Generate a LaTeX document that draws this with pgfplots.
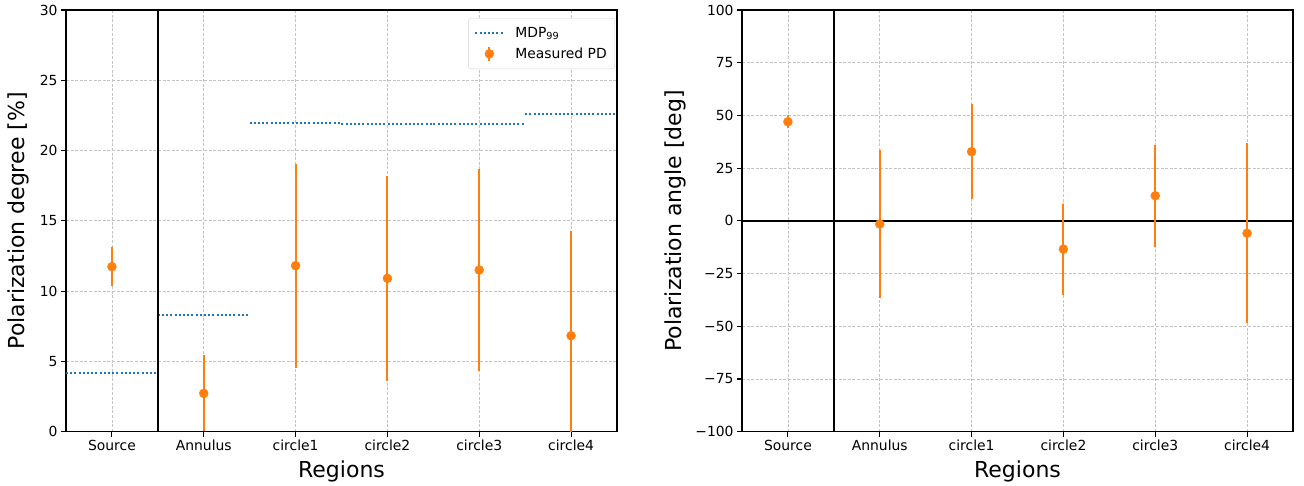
\documentclass[border=0pt]{standalone}
\usepackage{fontspec}
\setmainfont{DejaVu Sans}
\usepackage{pgfplots}
\usepackage{pgfplotstable}
\pgfplotsset{compat=1.18}
\definecolor{mplorange}{HTML}{FF7F0E}
\definecolor{mplblue}{HTML}{1F77B4}
\definecolor{gridgray}{HTML}{C4C4C4}
\newcommand\tickfont{\fontsize{13.9}{16}\selectfont}
\newcommand\labelfont{\fontsize{22}{26}\selectfont}

\pgfplotstableread{
x y e
0 11.74 1.40
1 2.73 2.70
2 11.81 7.25
3 10.91 7.30
4 11.50 7.20
5 6.83 7.47
}\pdtable

\pgfplotstableread{
x y e
0 47.0 3.0
1 -1.5 35.1
2 32.8 22.5
3 -13.4 21.6
4 11.9 24.2
5 -5.9 42.6
}\patable

\tikzset{mdpline/.style={mplblue, line width=2pt, dash pattern=on 2pt off 2.2pt}}

\pgfplotsset{
  mystyle/.style={
    scale only axis, width=551pt, height=421.7pt,
    xmin=-0.5, xmax=5.5,
    xtick={0,1,2,3,4,5},
    xticklabels={Source,Annulus,circle1,circle2,circle3,circle4},
    tick align=outside, major tick length=4.9pt,
    xtick pos=bottom, ytick pos=left,
    tick style={black, line width=1.1pt},
    axis line style={line width=1.1pt},
    grid=major,
    major grid style={gridgray, line width=0.8pt, dash pattern=on 3pt off 1.6pt},
    ticklabel style={font=\tickfont},
    label style={font=\labelfont},
    /pgf/number format/assume math mode=true,
    xlabel=Regions,
    xlabel style={at={(axis description cs:0.5,-0.0932)}, anchor=center},
  },
  pdstyle/.style={only marks, mark=*, mark size=4.5pt, color=mplorange,
    mark options={draw=mplorange, fill=mplorange},
    error bars/.cd, y dir=both, y explicit, error mark=none,
    error bar style={line width=2pt, mplorange}},
  mdplegend/.style={legend image code/.code={\draw[mdpline] (0pt,0pt) -- (28pt,0pt); \path (37pt,0pt);}},
  pdlegend/.style={legend image code/.code={\draw[mplorange, line width=2pt] (14pt,-7pt)--(14pt,7pt);
    \fill[mplorange] (14pt,0pt) circle (4.5pt); \path (37pt,0pt);}},
}

\begin{document}
\begin{tikzpicture}
\path[use as bounding box] (0pt,0pt) rectangle (1304pt,485pt);

\begin{axis}[mystyle,
  at={(66pt,53.3pt)}, anchor=south west,
  ymin=0, ymax=30, ytick={0,5,10,15,20,25,30},
  ylabel={Polarization degree [\%]},
  ylabel style={at={(axis description cs:-0.0871,0.5)}, anchor=center},
  unbounded coords=jump,
  legend style={at={(axis description cs:1,1)}, anchor=north east,
    xshift=-2pt, yshift=-8pt, draw=gray!35, rounded corners=3pt,
    font=\tickfont, inner xsep=6pt, inner ysep=7pt, row sep=5pt,
    cells={anchor=west}},
  legend cell align=left,
]
\addplot[mdpline, mdplegend]
  coordinates {(-0.5,4.2) (0.5,4.2) (0.5,nan)
               (0.5,8.28) (1.5,8.28) (1.5,nan)
               (1.5,21.96) (2.5,21.96) (2.5,nan)
               (2.5,21.86) (3.5,21.86) (3.5,nan)
               (3.5,21.86) (4.5,21.86) (4.5,nan)
               (4.5,22.58) (5.5,22.58)};
\addlegendentry{MDP\textsubscript{99}}
\addplot[pdlegend, pdstyle]
  table[x=x, y=y, y error=e]{\pdtable};
\addlegendentry{Measured PD}
\addplot[black, line width=1.5pt, forget plot] coordinates {(0.5,0) (0.5,30)};
\end{axis}

\begin{axis}[mystyle,
  at={(742pt,53.3pt)}, anchor=south west,
  ymin=-100, ymax=100, ytick={-100,-75,-50,-25,0,25,50,75,100},
  yticklabels={−100,−75,−50,−25,0,25,50,75,100},
  ylabel={Polarization angle [deg]},
  ylabel style={at={(axis description cs:-0.1216,0.5)}, anchor=center},
]
\addplot[black, line width=1.5pt, forget plot] coordinates {(0.5,-100) (0.5,100)};
\addplot[black, line width=1.5pt, forget plot] coordinates {(-0.5,0) (5.5,0)};
\addplot[pdstyle] table[x=x, y=y, y error=e]{\patable};
\end{axis}
\end{tikzpicture}
\end{document}
